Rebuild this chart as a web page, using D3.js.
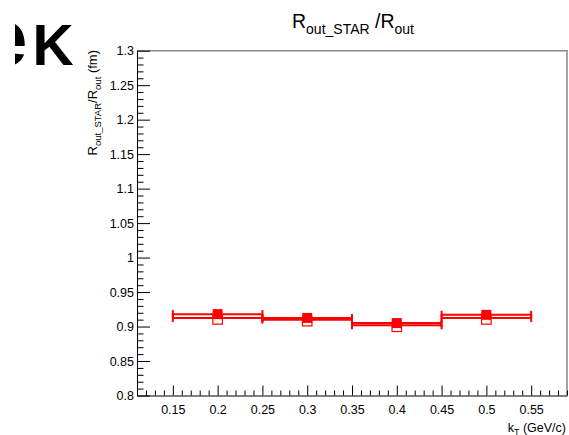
<!DOCTYPE html>
<html>
<head>
<meta charset="utf-8">
<script src="https://cdn.jsdelivr.net/npm/d3@7"></script>
<style>
  html, body { margin: 0; padding: 0; background: #fff; }
  svg { display: block; font-family: "Liberation Sans", Arial, Helvetica, sans-serif; }
</style>
</head>
<body>
<svg id="chart" width="569" height="435"></svg>
<script>
// kT bins (GeV/c) and half-widths
const ktCenters = [0.2, 0.3, 0.4, 0.5];
const ktHalfWidth = [0.05, 0.05, 0.05, 0.05];
// ratio R_out_STAR / R_out, two variants
const ratioFilled = [0.918, 0.9125, 0.905, 0.917];
const ratioOpen = [0.9125, 0.910, 0.9018, 0.9125];
// axis ticks
const xTickValues = [0.15, 0.2, 0.25, 0.3, 0.35, 0.4, 0.45, 0.5, 0.55];
const xTickLabels = ["0.15", "0.2", "0.25", "0.3", "0.35", "0.4", "0.45", "0.5", "0.55"];
const yTickValues = [0.8, 0.85, 0.9, 0.95, 1.0, 1.05, 1.1, 1.15, 1.2, 1.25, 1.3];
const yTickLabels = ["0.8", "0.85", "0.9", "0.95", "1", "1.05", "1.1", "1.15", "1.2", "1.25", "1.3"];

const svg = d3.select("#chart");
const plotLeft = 137, plotRight = 567, plotTop = 50.7, plotBottom = 395.5;
const red = "#ff0000";

const x = d3.scaleLinear().domain([0.11, 0.59]).range([plotLeft, plotRight]);
const y = d3.scaleLinear().domain([0.8, 1.3]).range([plotBottom, plotTop]);

// corner lettering, partially cut on the left
const defs = svg.append("defs");
defs.append("clipPath").attr("id", "cornerClip")
  .append("rect").attr("x", 15).attr("y", 0).attr("width", 120).attr("height", 90);
const corner = svg.append("text").attr("clip-path", "url(#cornerClip)")
  .attr("x", -17).attr("y", 65).attr("font-weight", "bold").attr("fill", "#000");
corner.append("tspan").attr("font-size", 80).text("e");
corner.append("tspan").attr("font-size", 57).attr("dx", 5).text("K");

// frame (top and right)
svg.append("path")
  .attr("d", `M${plotLeft},${plotTop}H${plotRight}V${plotBottom}`)
  .attr("fill", "none").attr("stroke", "#888").attr("stroke-width", 1.5);

// minor ticks
const xMinor = d3.range(11, 60).map(v => v / 100).filter(v => !xTickValues.some(t => Math.abs(t - v) < 1e-9));
const yMinor = d3.range(80, 131).map(v => v / 100).filter(v => !yTickValues.some(t => Math.abs(t - v) < 1e-9));

svg.append("g").attr("transform", `translate(0,${plotBottom})`)
  .call(d3.axisBottom(x).tickValues(xTickValues)
    .tickFormat((d, i) => xTickLabels[i]).tickSize(-10).tickPadding(10).tickSizeOuter(0));
svg.append("g").attr("transform", `translate(0,${plotBottom})`)
  .call(d3.axisBottom(x).tickValues(xMinor).tickFormat("").tickSize(-5).tickSizeOuter(0))
  .select(".domain").remove();

svg.append("g").attr("transform", `translate(${plotLeft},0)`)
  .call(d3.axisLeft(y).tickValues(yTickValues)
    .tickFormat((d, i) => yTickLabels[i]).tickSize(-13).tickPadding(3).tickSizeOuter(0));
svg.append("g").attr("transform", `translate(${plotLeft},0)`)
  .call(d3.axisLeft(y).tickValues(yMinor).tickFormat("").tickSize(-6.5).tickSizeOuter(0))
  .select(".domain").remove();

svg.selectAll(".tick line").attr("stroke", "#000").attr("stroke-width", 1);
svg.selectAll(".domain").attr("stroke", "#000").attr("stroke-width", 1);
svg.selectAll(".tick text").attr("font-size", 12.5).attr("fill", "#000")
  .attr("font-family", "'Liberation Sans', Arial, sans-serif");

// title
const title = svg.append("text").attr("x", 353).attr("y", 28)
  .attr("text-anchor", "middle").attr("font-size", 19.5).attr("fill", "#000");
title.append("tspan").text("R");
title.append("tspan").attr("font-size", 14).attr("dy", 6).text("out_STAR");
title.append("tspan").attr("dy", -6).text(" /R");
title.append("tspan").attr("font-size", 14).attr("dy", 6).text("out");

// y-axis title
const yTitle = svg.append("text")
  .attr("transform", `translate(96.5,50) rotate(-90)`)
  .attr("text-anchor", "end").attr("font-size", 13).attr("fill", "#000");
yTitle.append("tspan").text("R");
yTitle.append("tspan").attr("font-size", 9.5).attr("dy", 4).text("out_STAR");
yTitle.append("tspan").attr("dy", -4).text("/R");
yTitle.append("tspan").attr("font-size", 9.5).attr("dy", 4).text("out");
yTitle.append("tspan").attr("dy", -4).text(" (fm)");

// x-axis title
const xTitle = svg.append("text").attr("x", 566).attr("y", 431.5)
  .attr("text-anchor", "end").attr("font-size", 12.5).attr("fill", "#000");
xTitle.append("tspan").text("k");
xTitle.append("tspan").attr("font-size", 9).attr("dy", 3).text("T");
xTitle.append("tspan").attr("dy", -3).text(" (GeV/c)");

// error bars with end caps, then markers
function drawSeries(values, filled) {
  const g = svg.append("g");
  const pts = ktCenters.map((k, i) => ({ k, hw: ktHalfWidth[i], v: values[i] }));
  g.selectAll("line.bar").data(pts).join("line")
    .attr("class", "bar")
    .attr("x1", d => x(d.k - d.hw)).attr("x2", d => x(d.k + d.hw))
    .attr("y1", d => y(d.v)).attr("y2", d => y(d.v))
    .attr("stroke", red).attr("stroke-width", 2);
  g.selectAll("line.capL").data(pts).join("line")
    .attr("class", "capL")
    .attr("x1", d => x(d.k - d.hw)).attr("x2", d => x(d.k - d.hw))
    .attr("y1", d => y(d.v) - 4).attr("y2", d => y(d.v) + 4)
    .attr("stroke", red).attr("stroke-width", 2);
  g.selectAll("line.capR").data(pts).join("line")
    .attr("class", "capR")
    .attr("x1", d => x(d.k + d.hw)).attr("x2", d => x(d.k + d.hw))
    .attr("y1", d => y(d.v) - 4).attr("y2", d => y(d.v) + 4)
    .attr("stroke", red).attr("stroke-width", 2);
  const s = filled ? 10 : 9.5;
  g.selectAll("rect").data(pts).join("rect")
    .attr("x", d => x(d.k) - s / 2).attr("y", d => y(d.v) - s / 2 + (filled ? 0 : 1.5))
    .attr("width", s).attr("height", s)
    .attr("fill", filled ? red : "#fff")
    .attr("stroke", red).attr("stroke-width", filled ? 0 : 1.2);
}
drawSeries(ratioOpen, false);
drawSeries(ratioFilled, true);
</script>
</body>
</html>
